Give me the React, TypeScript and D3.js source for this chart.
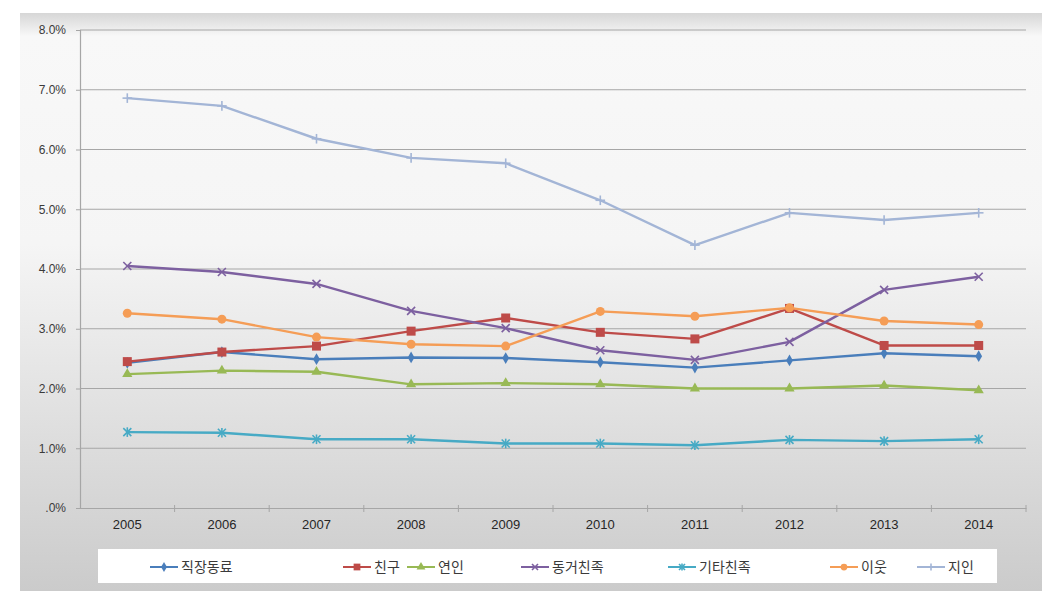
import React, { useRef, useEffect } from "react";
import * as d3 from "d3";

const years = ["2005", "2006", "2007", "2008", "2009", "2010", "2011", "2012", "2013", "2014"];

const coworker = [2.43, 2.61, 2.49, 2.52, 2.51, 2.44, 2.35, 2.47, 2.59, 2.54];
const friend = [2.45, 2.61, 2.71, 2.96, 3.18, 2.94, 2.83, 3.34, 2.72, 2.72];
const lover = [2.24, 2.3, 2.28, 2.07, 2.09, 2.07, 2.0, 2.0, 2.05, 1.97];
const livingKin = [4.05, 3.95, 3.75, 3.3, 3.01, 2.64, 2.48, 2.78, 3.65, 3.87];
const otherKin = [1.27, 1.26, 1.15, 1.15, 1.08, 1.08, 1.05, 1.14, 1.12, 1.15];
const neighbor = [3.26, 3.16, 2.86, 2.74, 2.71, 3.29, 3.21, 3.35, 3.13, 3.07];
const acquaintance = [6.86, 6.73, 6.18, 5.86, 5.77, 5.15, 4.4, 4.94, 4.82, 4.94];

const seriesNames = ["직장동료", "친구", "연인", "동거친족", "기타친족", "이웃", "지인"];
const seriesColors = ["#4a7ebb", "#be4b48", "#98b954", "#7d60a0", "#46aac5", "#f59d56", "#a3b5d6"];
const seriesMarkers = ["diamond", "square", "triangle", "x", "asterisk", "circle", "plus"];
const yTicks = [0, 1, 2, 3, 4, 5, 6, 7, 8];

export default function App() {
  const ref = useRef<SVGSVGElement>(null);

  useEffect(() => {
    const width = 1061, height = 602;
    const svg = d3.select(ref.current);
    svg.selectAll("*").remove();
    svg.attr("width", width).attr("height", height);

    const values = [coworker, friend, lover, livingKin, otherKin, neighbor, acquaintance];
    const plot = { left: 80, right: 1026, top: 30, bottom: 508 };

    const defs = svg.append("defs");
    const bg = defs.append("linearGradient").attr("id", "bg").attr("x1", 0).attr("y1", 0).attr("x2", 0).attr("y2", 1);
    bg.append("stop").attr("offset", "0%").attr("stop-color", "#d6d6d6");
    bg.append("stop").attr("offset", "4%").attr("stop-color", "#f8f8f8");
    bg.append("stop").attr("offset", "40%").attr("stop-color", "#f5f5f5");
    bg.append("stop").attr("offset", "100%").attr("stop-color", "#cbcbcb");

    const shadow = defs.append("filter").attr("id", "blur").attr("x", "-20%").attr("y", "-20%").attr("width", "140%").attr("height", "140%");
    shadow.append("feGaussianBlur").attr("stdDeviation", 0.6);

    svg.append("rect").attr("x", 20).attr("y", 13).attr("width", 1022).attr("height", 578).attr("fill", "url(#bg)");

    const x = d3.scaleBand().domain(years).range([plot.left, plot.right]);
    const y = d3.scaleLinear().domain([0, 8]).range([plot.bottom, plot.top]);

    // gridlines
    svg.append("g")
      .selectAll("line")
      .data(yTicks.filter(t => t > 0))
      .enter()
      .append("line")
      .attr("x1", plot.left)
      .attr("x2", plot.right)
      .attr("y1", d => y(d))
      .attr("y2", d => y(d))
      .attr("stroke", "#a6a6a6")
      .attr("stroke-width", 1.2);

    // y axis
    const yAxis = svg.append("g")
      .attr("transform", `translate(${plot.left},0)`)
      .call(d3.axisLeft(y).tickValues(yTicks).tickSize(4).tickPadding(10)
        .tickFormat(d => (+d === 0 ? ".0%" : `${(+d).toFixed(1)}%`)));
    yAxis.select(".domain").attr("stroke", "#a6a6a6").attr("stroke-width", 1.2);
    yAxis.selectAll(".tick line").attr("stroke", "#a6a6a6");
    yAxis.selectAll("text")
      .attr("fill", "#3a3a3a")
      .style("font-family", "'Liberation Sans', Arial, sans-serif")
      .style("font-size", "12px");

    // x axis
    const xAxis = svg.append("g")
      .attr("transform", `translate(0,${plot.bottom})`)
      .call(d3.axisBottom(x).tickSize(0).tickPadding(12));
    xAxis.select(".domain").attr("stroke", "#a6a6a6").attr("stroke-width", 1.2);
    xAxis.selectAll("text")
      .attr("fill", "#262626")
      .style("font-family", "'Liberation Sans Narrow', 'Liberation Sans', Arial, sans-serif")
      .style("font-size", "13px");
    xAxis.append("g")
      .selectAll("line")
      .data(years.slice(1).concat(["end"]))
      .enter()
      .append("line")
      .attr("x1", (d, i) => plot.left + x.step() * (i + 1))
      .attr("x2", (d, i) => plot.left + x.step() * (i + 1))
      .attr("y1", -3)
      .attr("y2", 4)
      .attr("stroke", "#a6a6a6");

    const cx = (i: number) => (x(years[i]) as number) + x.bandwidth() / 2;

    const drawMarker = (g: any, kind: string, color: string, px: number, py: number, s = 1) => {
      if (kind === "diamond") {
        g.append("path").attr("d", d3.symbol(d3.symbolDiamond, 40 * s)()).attr("transform", `translate(${px},${py})`).attr("fill", color);
      } else if (kind === "square") {
        g.append("rect").attr("x", px - 4.5 * s).attr("y", py - 4.5 * s).attr("width", 9 * s).attr("height", 9 * s).attr("fill", color);
      } else if (kind === "triangle") {
        g.append("path").attr("d", d3.symbol(d3.symbolTriangle, 45 * s)()).attr("transform", `translate(${px},${py})`).attr("fill", color);
      } else if (kind === "circle") {
        g.append("circle").attr("cx", px).attr("cy", py).attr("r", 4.5 * s).attr("fill", color);
      } else {
        const r = 4 * s;
        const segs: number[][] = [];
        if (kind === "x" || kind === "asterisk") segs.push([-r, -r, r, r], [-r, r, r, -r]);
        if (kind === "asterisk") segs.push([0, -r * 1.2, 0, r * 1.2]);
        if (kind === "plus") segs.push([-r * 1.2, 0, r * 1.2, 0], [0, -r * 1.2, 0, r * 1.2]);
        segs.forEach(([a, b, c, d]) => {
          g.append("line").attr("x1", px + a).attr("y1", py + b).attr("x2", px + c).attr("y2", py + d)
            .attr("stroke", color).attr("stroke-width", 1.6);
        });
      }
    };

    const line = d3.line<number>().x((d, i) => cx(i)).y(d => y(d));

    values.forEach((vals, si) => {
      const g = svg.append("g").attr("filter", "url(#blur)");
      g.append("path")
        .attr("d", line(vals))
        .attr("fill", "none")
        .attr("stroke", seriesColors[si])
        .attr("stroke-width", 2.4)
        .attr("stroke-linejoin", "round");
      vals.forEach((v, i) => drawMarker(g, seriesMarkers[si], seriesColors[si], cx(i), y(v)));
    });

    // legend
    const legend = svg.append("g");
    legend.append("rect").attr("x", 98).attr("y", 549).attr("width", 899).attr("height", 34).attr("fill", "#ffffff");
    const legendX = [150, 343, 407, 521, 668, 830, 917];
    seriesNames.forEach((name, i) => {
      const lg = legend.append("g");
      const lx = legendX[i], ly = 567;
      lg.append("line").attr("x1", lx).attr("x2", lx + 28).attr("y1", ly).attr("y2", ly)
        .attr("stroke", seriesColors[i]).attr("stroke-width", 2);
      drawMarker(lg, seriesMarkers[i], seriesColors[i], lx + 14, ly, 0.75);
      lg.append("text")
        .attr("x", lx + 31)
        .attr("y", ly + 5)
        .attr("fill", "#3a3a3a")
        .style("font-family", "'Noto Sans CJK KR', sans-serif")
        .style("font-size", "14px")
        .text(name);
    });
  }, []);

  return (
    <div style={{ position: "absolute", left: 0, top: 0 }}>
      <svg ref={ref} style={{ display: "block" }}></svg>
    </div>
  );
}
